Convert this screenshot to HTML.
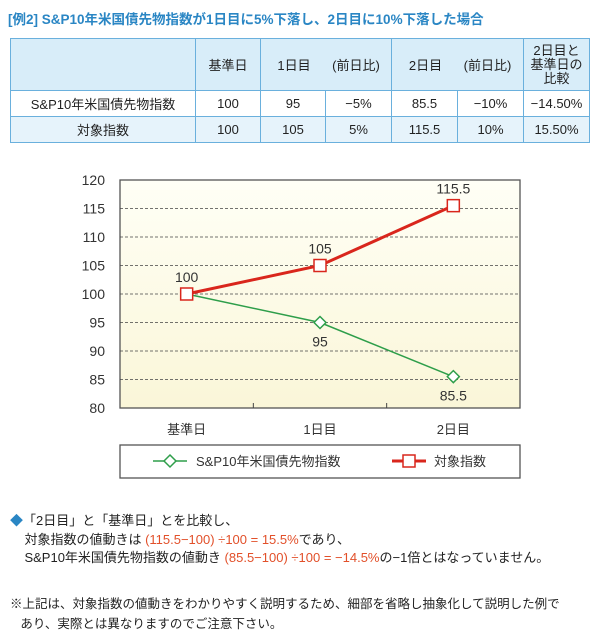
<!DOCTYPE html>
<html><head><meta charset="utf-8"><style>
body{margin:0;width:600px;height:635px;background:#fff;font-family:"Liberation Sans","Noto Sans CJK JP",sans-serif;position:relative;overflow:hidden;color:#222}
.t{position:absolute;white-space:nowrap}
table{position:absolute;left:10px;top:38px;width:580px;border-collapse:collapse;font-size:13px}
td{border:1px solid #6ab0dd;text-align:center;padding:0}
.o{color:#e2502a}
</style></head><body>
<div class="t" style="left:8px;top:8px;font-size:13.5px;font-weight:bold;color:#2a86c4">[例2] S&amp;P10年米国債先物指数が1日目に5%下落し、2日目に10%下落した場合</div>
<table>
<tr style="height:52px;background:#d8edf9"><td style="width:184px"></td><td style="width:64px">基準日</td><td colspan="2" style="width:129px;border-right:1px solid #6ab0dd"><span style="display:inline-block;width:60px">1日目</span><span style="display:inline-block;width:64px">(前日比)</span></td><td colspan="2"><span style="display:inline-block;width:60px">2日目</span><span style="display:inline-block;width:64px">(前日比)</span></td><td style="line-height:14px">2日目と<br>基準日の<br>比較</td></tr>
<tr style="height:26px"><td>S&amp;P10年米国債先物指数</td><td>100</td><td style="width:64px">95</td><td style="width:65px">−5%</td><td style="width:65px">85.5</td><td style="width:65px">−10%</td><td>−14.50%</td></tr>
<tr style="height:26px;background:#e6f3fb"><td>対象指数</td><td>100</td><td>105</td><td>5%</td><td>115.5</td><td>10%</td><td>15.50%</td></tr>
</table>
<svg id="c" width="600" height="635" style="position:absolute;left:0;top:0">
<defs><linearGradient id="g" x1="0" y1="0" x2="0" y2="1"><stop offset="0" stop-color="#fffff6"/><stop offset="1" stop-color="#faf6d8"/></linearGradient></defs>
</svg>
<div class="t" style="left:10px;top:512px;font-size:13px;line-height:18.5px"><span style="color:#2a86c4">◆</span>「2日目」と「基準日」とを比較し、<br>&nbsp;&nbsp;&nbsp;&nbsp;対象指数の値動きは <span class="o">(115.5−100) ÷100 = 15.5%</span>であり、<br>&nbsp;&nbsp;&nbsp;&nbsp;S&amp;P10年米国債先物指数の値動き <span class="o">(85.5−100) ÷100 = −14.5%</span>の−1倍とはなっていません。</div>
<div class="t" style="left:10px;top:594px;font-size:12.5px;line-height:20px">※上記は、対象指数の値動きをわかりやすく説明するため、細部を省略し抽象化して説明した例で<br>&nbsp;&nbsp;&nbsp;あり、実際とは異なりますのでご注意下さい。</div>
<script>
const categories=["基準日","1日目","2日目"];
const bondValues=[100,95,85.5];
const targetValues=[100,105,115.5];
const bondLabels=["","95","85.5"];
const targetLabels=["100","105","115.5"];
const yTicks=[80,85,90,95,100,105,110,115,120];
const L=120,R=520,T=180,B=408,yMin=80,yMax=120;
const x=i=>L+(R-L)*(i+0.5)/categories.length;
const y=v=>B-(v-yMin)/(yMax-yMin)*(B-T);
const s=document.getElementById('c'),NS='http://www.w3.org/2000/svg';
function mk(t,a,txt){const e=document.createElementNS(NS,t);for(const k in a)e.setAttribute(k,a[k]);if(txt!=null)e.textContent=txt;s.appendChild(e);return e;}
let e=mk('rect',{x:L,y:T,width:R-L,height:B-T,fill:'url(#g)',stroke:'#555','stroke-width':1.3});


yTicks.forEach(v=>{
 if(v>yMin&&v<yMax){const g=mk('line',{x1:L,x2:R,y1:y(v),y2:y(v),stroke:'#444','stroke-dasharray':'3,2','stroke-width':0.8});
 
 }
 const t=mk('text',{x:105,y:y(v)+5,'text-anchor':'end','font-size':14,fill:'#333'},v);
 
 
});
categories.forEach((c,i)=>{
 const t=mk('text',{x:x(i),y:B+26,'text-anchor':'middle','font-size':13,fill:'#333'},c);
 
 
 if(i>0){const k=mk('line',{x1:(x(i)+x(i-1))/2,x2:(x(i)+x(i-1))/2,y1:B-5,y2:B,stroke:'#444'});
 
 }
});
const pts=v=>v.map((d,i)=>x(i)+','+y(d)).join(' ');
e=mk('polyline',{points:pts(bondValues),fill:'none',stroke:'#2e9e4a','stroke-width':1.5});


e=mk('polyline',{points:pts(targetValues),fill:'none',stroke:'#d9261c','stroke-width':3});


bondValues.forEach((v,i)=>{if(i===0)return;
 const cx=x(i),cy=y(v);
 const m=mk('polygon',{points:`${cx},${cy-6} ${cx+6},${cy} ${cx},${cy+6} ${cx-6},${cy}`,fill:'#fff',stroke:'#2e9e4a','stroke-width':1.5});
 
 
 const t=mk('text',{x:cx,y:cy+24,'text-anchor':'middle','font-size':14,fill:'#333'},bondLabels[i]);
 
 
});
targetValues.forEach((v,i)=>{
 const cx=x(i),cy=y(v);
 const m=mk('rect',{x:cx-6,y:cy-6,width:12,height:12,fill:'#fff',stroke:'#d9261c','stroke-width':1.5});
 
 
 const t=mk('text',{x:cx,y:cy-12,'text-anchor':'middle','font-size':14,fill:'#333'},targetLabels[i]);
 
 
});
e=mk('rect',{x:L,y:445,width:R-L,height:33,fill:'#fff',stroke:'#555','stroke-width':1.3});


e=mk('line',{x1:153,x2:187,y1:461,y2:461,stroke:'#2e9e4a','stroke-width':1.5});


e=mk('polygon',{points:'170,455 176,461 170,467 164,461',fill:'#fff',stroke:'#2e9e4a','stroke-width':1.5});


e=mk('text',{x:196,y:466,'font-size':13,fill:'#333'},'S&P10年米国債先物指数');


e=mk('line',{x1:392,x2:426,y1:461,y2:461,stroke:'#d9261c','stroke-width':3});


e=mk('rect',{x:403,y:455,width:12,height:12,fill:'#fff',stroke:'#d9261c','stroke-width':1.5});


e=mk('text',{x:434,y:466,'font-size':13,fill:'#333'},'対象指数');


</script>
</body></html>
